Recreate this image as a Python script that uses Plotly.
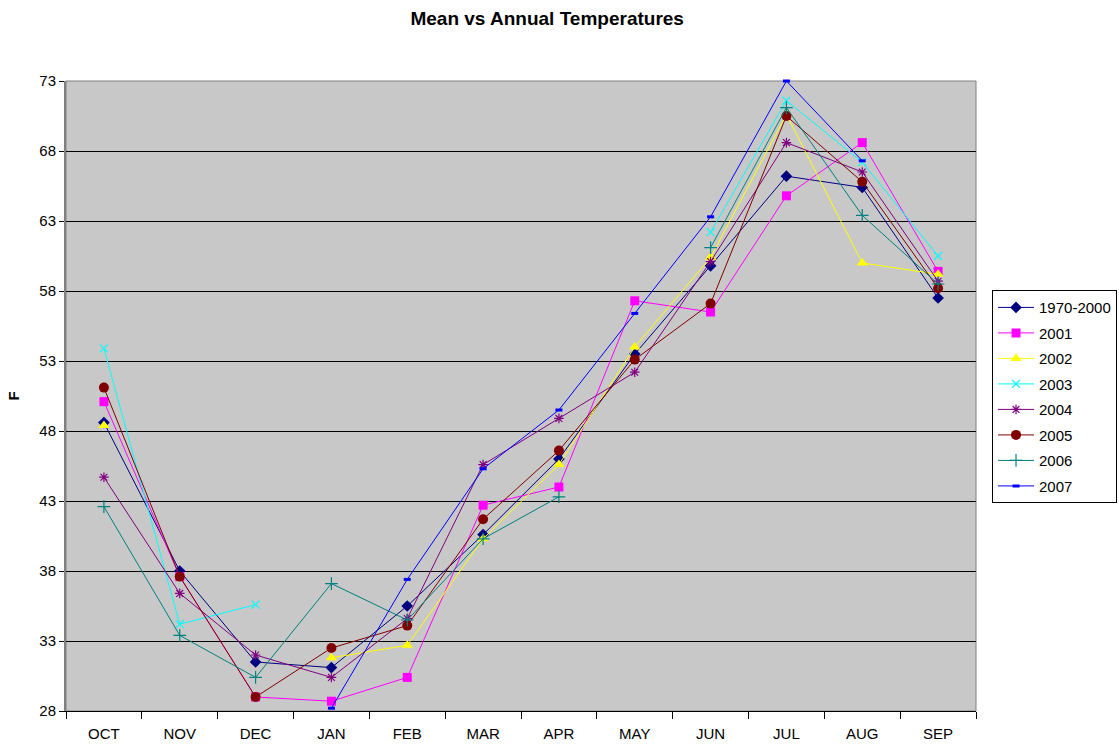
import plotly.graph_objects as go

# Months of the water year (October through September)
months = ["OCT", "NOV", "DEC", "JAN", "FEB", "MAR", "APR", "MAY", "JUN", "JUL", "AUG", "SEP"]

# Monthly mean temperatures (F); None = no reading for that month
mean_1970_2000 = [48.6, 38.0, 31.5, 31.1, 35.5, 40.6, 46.0, 53.5, 59.8, 66.2, 65.4, 57.5]
temps_2001 = [50.1, 37.6, 29.0, 28.7, 30.4, 42.7, 44.0, 57.3, 56.5, 64.8, 68.6, 59.4]
temps_2002 = [48.4, None, None, 31.8, 32.7, 40.3, 45.6, 54.0, 60.4, 70.6, 60.0, 59.2]
temps_2003 = [53.9, 34.2, 35.6, None, None, None, None, None, 62.2, 71.6, 67.2, 60.5]
temps_2004 = [44.7, 36.4, 32.0, 30.4, 34.6, 45.6, 48.9, 52.2, 60.1, 68.6, 66.5, 58.7]
temps_2005 = [51.1, 37.6, 29.0, 32.5, 34.1, 41.7, 46.6, 53.1, 57.1, 70.5, 65.8, 58.2]
temps_2006 = [42.6, 33.4, 30.4, 37.1, 34.5, 40.3, 43.3, None, 61.1, 71.1, 63.4, 58.5]
temps_2007 = [None, None, None, 28.2, 37.4, 45.3, 49.5, 56.4, 63.3, 73.0, 67.3, None]

y_ticks = [28, 33, 38, 43, 48, 53, 58, 63, 68, 73]

series = [
    ("1970-2000", mean_1970_2000, "#000080", dict(symbol="diamond", size=9)),
    ("2001", temps_2001, "#FF00FF", dict(symbol="square", size=9)),
    ("2002", temps_2002, "#FFFF00", dict(symbol="triangle-up", size=10)),
    ("2003", temps_2003, "#00FFFF", dict(symbol="x-thin-open", size=8, line=dict(width=1.2, color="#00FFFF"))),
    ("2004", temps_2004, "#800080", dict(symbol="asterisk-open", size=8, line=dict(width=1.2, color="#800080"))),
    ("2005", temps_2005, "#800000", dict(symbol="circle", size=10)),
    ("2006", temps_2006, "#008080", dict(symbol="cross-thin-open", size=9, line=dict(width=1.2, color="#008080"))),
    ("2007", temps_2007, "#0000FF", dict(symbol="line-ew-open", size=5, line=dict(width=3, color="#0000FF"))),
]

fig = go.Figure()
for name, values, color, marker in series:
    m = dict(color=color)
    m.update(marker)
    fig.add_trace(go.Scatter(
        x=months, y=values, name=name, mode="lines+markers",
        line=dict(color=color, width=1), marker=m,
        connectgaps=False, cliponaxis=False, legendgroup=name,
    ))

fig.update_layout(
    width=1119, height=746,
    margin=dict(l=66, r=143, t=81, b=35, autoexpand=False),
    paper_bgcolor="white",
    plot_bgcolor="#C8C8C8",
    font=dict(family="Liberation Sans, Arial, sans-serif", size=15, color="black"),
    title=dict(text="<b>Mean vs Annual Temperatures</b>", x=0.489, xanchor="center",
               y=0.976, yanchor="middle", font=dict(size=19)),
    showlegend=True,
    legend=dict(x=1.0176, xanchor="left", y=0.668, yanchor="top",
                bgcolor="white", bordercolor="black", borderwidth=1,
                font=dict(size=15), tracegroupgap=3, itemwidth=36),
    xaxis=dict(
        type="category", categoryorder="array", categoryarray=months,
        range=[-0.5, 11.5], tickson="boundaries", ticks="outside", ticklen=7,
        tickcolor="black", showgrid=False, showline=True, linecolor="black",
        linewidth=1, zeroline=False, tickfont=dict(size=15), ticklabelstandoff=9,
    ),
    yaxis=dict(
        range=[28, 73], tickvals=y_ticks, ticks="outside", ticklen=5,
        tickcolor="black", showgrid=True, gridcolor="black", gridwidth=1,
        showline=True, linecolor="#808080", linewidth=2, zeroline=False,
        title=dict(text="<b>F</b>", font=dict(size=15), standoff=16),
        tickfont=dict(size=15),
    ),
)

# Thin border around the plot area
fig.add_shape(type="rect", xref="paper", yref="paper", x0=0, y0=0, x1=1, y1=1,
              line=dict(color="#808080", width=1), layer="below")

fig.write_html("out.html")
